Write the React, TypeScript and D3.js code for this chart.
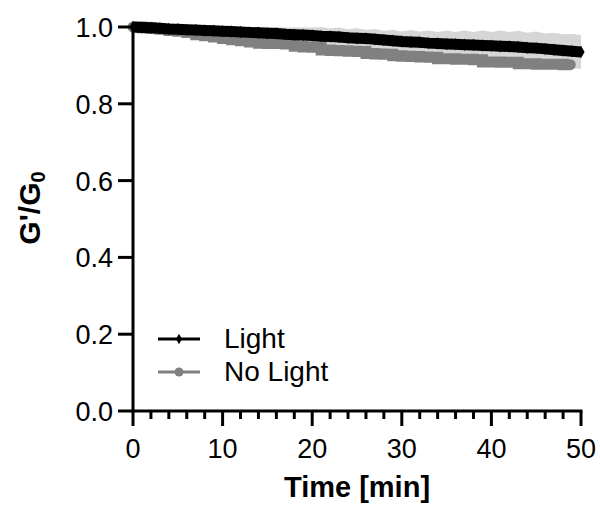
import { useEffect, useRef } from "react";
import * as d3 from "d3";

// time points (min)
const timeLight = d3.range(0, 51);
const timeNoLight = [...d3.range(0, 49), 48.8];

// normalised modulus G'/G0
const lightValues = [
  1.0, 0.999, 0.998, 0.997, 0.995, 0.994, 0.993, 0.992, 0.991, 0.99, 0.989,
  0.988, 0.987, 0.986, 0.985, 0.984, 0.983, 0.981, 0.98, 0.979, 0.978, 0.976,
  0.975, 0.974, 0.972, 0.971, 0.97, 0.968, 0.966, 0.964, 0.962, 0.961, 0.96,
  0.958, 0.957, 0.956, 0.955, 0.954, 0.953, 0.952, 0.951, 0.95, 0.949, 0.948,
  0.946, 0.945, 0.943, 0.941, 0.939, 0.937, 0.935,
];
const noLightValues = [
  1.0, 0.998, 0.996, 0.994, 0.991, 0.989, 0.986, 0.98, 0.977, 0.974, 0.97,
  0.967, 0.964, 0.961, 0.958, 0.957, 0.957, 0.956, 0.95, 0.948, 0.947, 0.94,
  0.939, 0.938, 0.937, 0.936, 0.931, 0.93, 0.929, 0.925, 0.924, 0.923, 0.922,
  0.921, 0.917, 0.917, 0.916, 0.916, 0.915, 0.909, 0.909, 0.908, 0.908, 0.904,
  0.904, 0.903, 0.903, 0.903, 0.902, 0.902,
];
// standard deviation of the Light series
const lightSd = [
  0.0, 0.002, 0.003, 0.004, 0.005, 0.006, 0.007, 0.008, 0.009, 0.01, 0.011,
  0.012, 0.013, 0.014, 0.015, 0.016, 0.017, 0.018, 0.019, 0.02, 0.021, 0.024,
  0.021, 0.025, 0.022, 0.026, 0.023, 0.027, 0.024, 0.029, 0.026, 0.031, 0.028,
  0.033, 0.03, 0.035, 0.032, 0.037, 0.034, 0.039, 0.036, 0.041, 0.038, 0.042,
  0.039, 0.043, 0.04, 0.044, 0.042, 0.045, 0.044,
];

const xTicks = [0, 10, 20, 30, 40, 50];
const xMinorTicks = [2, 4, 6, 8, 12, 14, 16, 18, 22, 24, 26, 28, 32, 34, 36, 38, 42, 44, 46, 48];
const yTicks = [0, 0.2, 0.4, 0.6, 0.8, 1.0];
const seriesNames = ["Light", "No Light"];
const seriesColors = ["#000000", "#808080"];

export default function App() {
  const svgRef = useRef<SVGSVGElement>(null);

  useEffect(() => {
    const svg = d3.select(svgRef.current);
    svg.selectAll("*").remove();

    const x = d3.scaleLinear().domain([0, 50]).range([133, 581]);
    const y = d3.scaleLinear().domain([0, 1]).range([411, 27]);
    const font = "Arial, 'Liberation Sans', sans-serif";

    // error band of Light
    const band = d3
      .area<number>()
      .x((d) => x(timeLight[d]))
      .y0((d) => y(lightValues[d] - lightSd[d]))
      .y1((d) => y(lightValues[d] + lightSd[d]));
    svg
      .append("path")
      .attr("d", band(d3.range(lightValues.length)))
      .attr("fill", "#d6d6d6");

    // No Light series: stepped thick trace
    const noLightLine = d3
      .line<number>()
      .x((d) => x(timeNoLight[d]))
      .y((d) => y(noLightValues[d]))
      .curve(d3.curveStepAfter);
    svg
      .append("path")
      .attr("d", noLightLine(d3.range(noLightValues.length)))
      .attr("fill", "none")
      .attr("stroke", seriesColors[1])
      .attr("stroke-width", 11)
      .attr("stroke-linecap", "round");

    // Light series
    const lightLine = d3
      .line<number>()
      .x((d) => x(timeLight[d]))
      .y((d) => y(lightValues[d]));
    svg
      .append("path")
      .attr("d", lightLine(d3.range(lightValues.length)))
      .attr("fill", "none")
      .attr("stroke", seriesColors[0])
      .attr("stroke-width", 11)
      .attr("stroke-linejoin", "round");
    svg
      .append("g")
      .selectAll("path")
      .data(d3.range(lightValues.length))
      .join("path")
      .attr("d", d3.symbol(d3.symbolDiamond, 45)())
      .attr("transform", (d) => `translate(${x(timeLight[d])},${y(lightValues[d])})`)
      .attr("fill", seriesColors[0]);

    // axes
    const xAxis = svg.append("g").attr("transform", "translate(0,411)");
    xAxis
      .append("line")
      .attr("x1", x(0) - 1.5)
      .attr("x2", x(50) + 1.5)
      .attr("stroke", "#000")
      .attr("stroke-width", 3);
    xAxis
      .selectAll("line.minor")
      .data(xMinorTicks)
      .join("line")
      .attr("class", "minor")
      .attr("x1", (d) => x(d))
      .attr("x2", (d) => x(d))
      .attr("y1", 0)
      .attr("y2", 8)
      .attr("stroke", "#000")
      .attr("stroke-width", 3);
    xAxis
      .selectAll("line.major")
      .data(xTicks)
      .join("line")
      .attr("class", "major")
      .attr("x1", (d) => x(d))
      .attr("x2", (d) => x(d))
      .attr("y1", 0)
      .attr("y2", 15)
      .attr("stroke", "#000")
      .attr("stroke-width", 3);
    xAxis
      .selectAll("text")
      .data(xTicks)
      .join("text")
      .attr("x", (d) => x(d))
      .attr("y", 47)
      .attr("text-anchor", "middle")
      .attr("font-family", font)
      .attr("font-size", 27)
      .text((d) => d);

    const yAxis = svg.append("g");
    yAxis
      .append("line")
      .attr("x1", x(0))
      .attr("x2", x(0))
      .attr("y1", y(0) + 1.5)
      .attr("y2", y(1) - 1.5)
      .attr("stroke", "#000")
      .attr("stroke-width", 3);
    yAxis
      .selectAll("line.tick")
      .data(yTicks)
      .join("line")
      .attr("class", "tick")
      .attr("x1", x(0) - 15)
      .attr("x2", x(0))
      .attr("y1", (d) => y(d))
      .attr("y2", (d) => y(d))
      .attr("stroke", "#000")
      .attr("stroke-width", 3);
    yAxis
      .selectAll("text")
      .data(yTicks)
      .join("text")
      .attr("x", x(0) - 20)
      .attr("y", (d) => y(d) + 10)
      .attr("text-anchor", "end")
      .attr("font-family", font)
      .attr("font-size", 27)
      .text((d) => d.toFixed(1));

    // axis titles
    svg
      .append("text")
      .attr("x", 357)
      .attr("y", 497)
      .attr("text-anchor", "middle")
      .attr("font-family", font)
      .attr("font-weight", "bold")
      .attr("font-size", 29)
      .text("Time [min]");
    const yl = svg
      .append("text")
      .attr("transform", "translate(40,208) rotate(-90)")
      .attr("text-anchor", "middle")
      .attr("font-family", font)
      .attr("font-weight", "bold")
      .attr("font-size", 30);
    yl.append("tspan").text("G'/G");
    yl.append("tspan").attr("font-size", 20).attr("dy", 5).text("0");

    // legend
    const legend = svg
      .append("g")
      .selectAll("g")
      .data(seriesNames)
      .join("g")
      .attr("transform", (_, i) => `translate(0,${339 + i * 33})`);
    legend
      .append("line")
      .attr("x1", 158)
      .attr("x2", 200)
      .attr("stroke", (_, i) => seriesColors[i])
      .attr("stroke-width", 3);
    legend
      .append("path")
      .attr("d", (_, i) =>
        d3.symbol(i === 0 ? d3.symbolDiamond : d3.symbolCircle, i === 0 ? 32 : 64)()
      )
      .attr("transform", "translate(179,0)")
      .attr("fill", (_, i) => seriesColors[i]);
    legend
      .append("text")
      .attr("x", 224)
      .attr("y", 9)
      .attr("font-family", font)
      .attr("font-size", 28)
      .text((d) => d);
  }, []);

  return (
    <svg
      ref={svgRef}
      width={600}
      height={506}
      style={{ position: "absolute", left: 0, top: 0, background: "#fff" }}
    />
  );
}
